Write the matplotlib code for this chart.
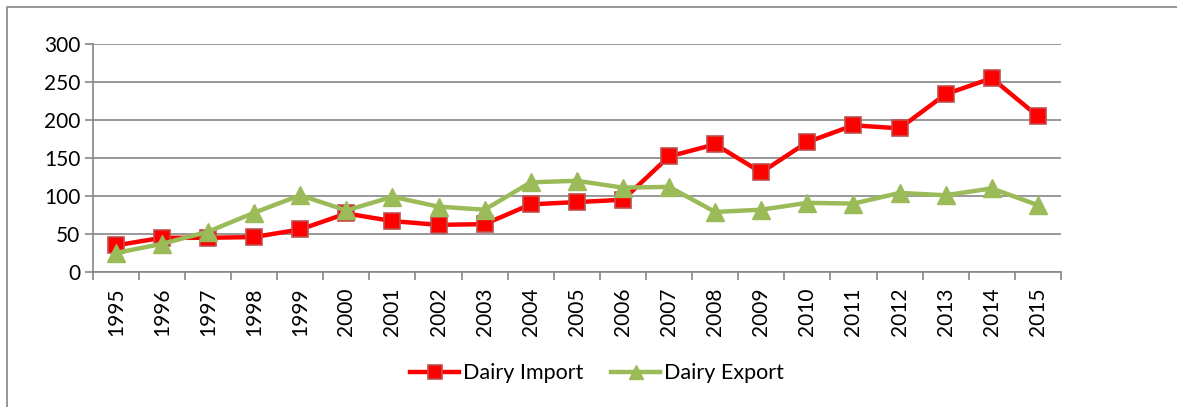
import matplotlib
matplotlib.use('Agg')
import matplotlib.pyplot as plt
from matplotlib.lines import Line2D

plt.rcParams['font.family'] = ['Lato', 'DejaVu Sans']

years = [str(y) for y in range(1995, 2016)]
dairy_import = [35, 45, 45, 46, 56, 77, 67, 62, 63, 89, 92, 95,
                152, 168, 131, 171, 193, 189, 234, 255, 205]
dairy_export = [25, 37, 53, 78, 101, 81, 99, 86, 82, 118, 120, 111,
                112, 79, 82, 91, 90, 104, 101, 110, 88]
y_ticks = [0, 50, 100, 150, 200, 250, 300]

fig = plt.figure(figsize=(11.77, 4.07), dpi=100)
ax = fig.add_axes([0.0788, 0.3317, 0.8226, 0.5602])

# outer chart border (only left and top are visible in the crop)
bx, by = 7 / 1177, 1 - 7 / 407
fig.lines.append(Line2D([bx, bx, 1.0], [0.0, by, by], transform=fig.transFigure,
                        color='#868686', linewidth=1.2))

x = list(range(len(years)))
ax.plot(x, dairy_import, color='#ff0000', linewidth=3.2, marker='s',
        markersize=12, markerfacecolor='#ff0000', markeredgecolor='#c0504d',
        markeredgewidth=1.2, label='Dairy Import', zorder=3)
ax.plot(x, dairy_export, color='#9bbb59', linewidth=3.2, marker='^',
        markersize=13, markerfacecolor='#9bbb59', markeredgecolor='#9bbb59',
        label='Dairy Export', zorder=4)

ax.set_xlim(-0.5, len(years) - 0.5)
ax.set_ylim(0, 300)
ax.set_yticks(y_ticks)
ax.set_xticks(x)
ax.set_xticklabels(years, rotation=90)
ax.set_xticks([i - 0.5 for i in range(len(years) + 1)], minor=True)
ax.tick_params(axis='x', which='major', length=0, pad=11, labelsize=15)
ax.tick_params(axis='x', which='minor', length=6, color='#868686', width=1.2)
ax.tick_params(axis='y', length=6, color='#868686', width=1.2, labelsize=15, pad=3)

ax.grid(axis='y', color='#868686', linewidth=1.2)
ax.set_axisbelow(True)
for side in ['top', 'right']:
    ax.spines[side].set_visible(False)
for side in ['left', 'bottom']:
    ax.spines[side].set_color('#868686')
    ax.spines[side].set_linewidth(1.2)

fig.legend(loc='center', bbox_to_anchor=(0.507, 0.083), ncol=2, frameon=False,
           fontsize=15.5, handlelength=2.3, columnspacing=1.3, handletextpad=0.15,
           markerscale=0.8)

fig.savefig('out.png', dpi=100)
